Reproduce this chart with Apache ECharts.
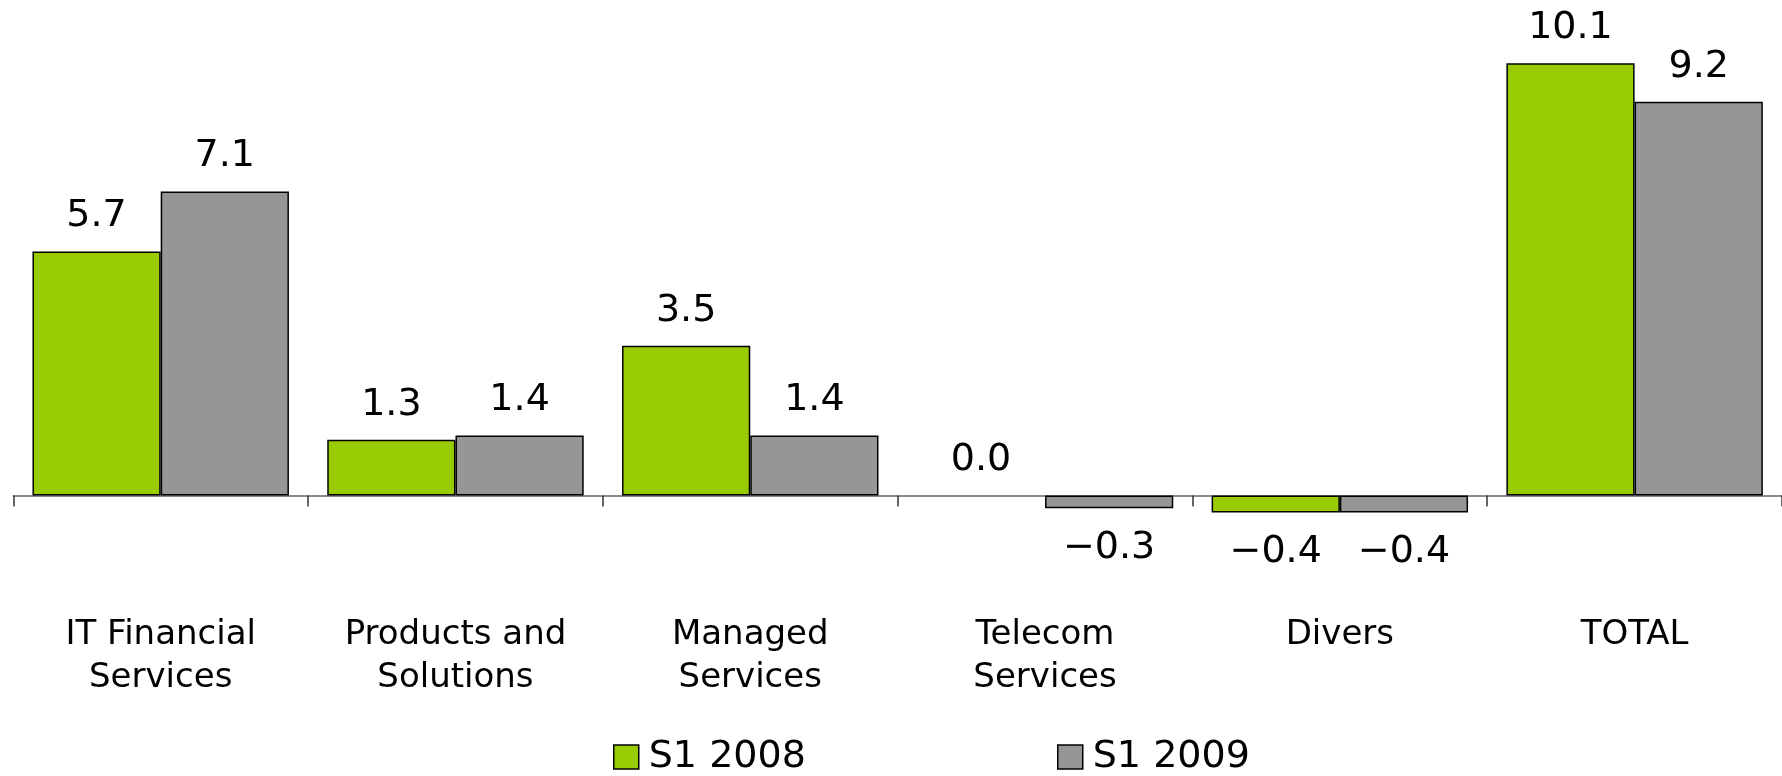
<!DOCTYPE html>
<html>
<head>
<meta charset="utf-8">
<script src="https://cdn.jsdelivr.net/npm/echarts@6/dist/echarts.min.js"></script>
<style>
html,body{margin:0;padding:0;background:#fff;}
#chart{width:1782px;height:776px;}
</style>
</head>
<body>
<div id="chart"></div>
<script>
const categories = ['IT Financial\nServices', 'Products and\nSolutions', 'Managed\nServices', 'Telecom\nServices', 'Divers', 'TOTAL'];
const seriesNames = ['S1 2008', 'S1 2009'];
const s2008 = [5.7, 1.3, 3.5, 0.0, -0.4, 10.1];
const s2009 = [7.1, 1.4, 1.4, -0.3, -0.4, 9.2];
const colors = ['#99CC00', '#969696'];

function toData(arr) {
  return arr.map(v => ({
    value: v,
    label: { position: v < 0 ? 'bottom' : 'top', distance: v < 0 ? 21 : 16 },
    itemStyle: v === 0 ? { borderWidth: 0 } : undefined
  }));
}

const chart = echarts.init(document.getElementById('chart'), null, { renderer: 'canvas' });
const labelStyle = {
  show: true,
  color: '#000',
  fontFamily: 'DejaVu Sans',
  fontSize: 38,
  formatter: p => Number(p.value).toFixed(1).replace('-', '\u2212')
};
const legendText = { fontFamily: 'DejaVu Sans', fontSize: 38, color: '#000', padding: [0, 0, 0, 5] };
function legendFor(i, left) {
  return {
    left: left,
    top: 738,
    padding: 0,
    itemWidth: 25,
    itemHeight: 24,
    icon: 'rect',
    textStyle: legendText,
    data: [{ name: seriesNames[i], itemStyle: { color: colors[i], borderColor: '#000', borderWidth: 1.5 } }]
  };
}
chart.setOption({
  animation: false,
  backgroundColor: '#fff',
  grid: { left: 13.3, right: -4.9, top: 24.7, bottom: 237.7, containLabel: false },
  legend: [legendFor(0, 613), legendFor(1, 1057)],
  xAxis: {
    type: 'category',
    data: categories,
    axisLine: { show: true, onZero: true, lineStyle: { color: '#666', width: 1.5 } },
    axisTick: { show: true, length: 11, lineStyle: { color: '#333', width: 1.5 } },
    axisLabel: {
      margin: 75,
      color: '#000',
      fontFamily: 'DejaVu Sans',
      fontSize: 34,
      lineHeight: 43,
      interval: 0
    },
    splitLine: { show: false }
  },
  yAxis: {
    type: 'value',
    min: -1,
    max: 11,
    show: false,
    splitLine: { show: false }
  },
  series: [
    {
      name: seriesNames[0],
      type: 'bar',
      data: toData(s2008),
      barGap: '0%',
      barCategoryGap: '13%',
      itemStyle: { color: colors[0], borderColor: '#000', borderWidth: 1.5 },
      label: labelStyle
    },
    {
      name: seriesNames[1],
      type: 'bar',
      data: toData(s2009),
      barGap: '0%',
      barCategoryGap: '13%',
      itemStyle: { color: colors[1], borderColor: '#000', borderWidth: 1.5 },
      label: labelStyle
    }
  ]
});
</script>
</body>
</html>
